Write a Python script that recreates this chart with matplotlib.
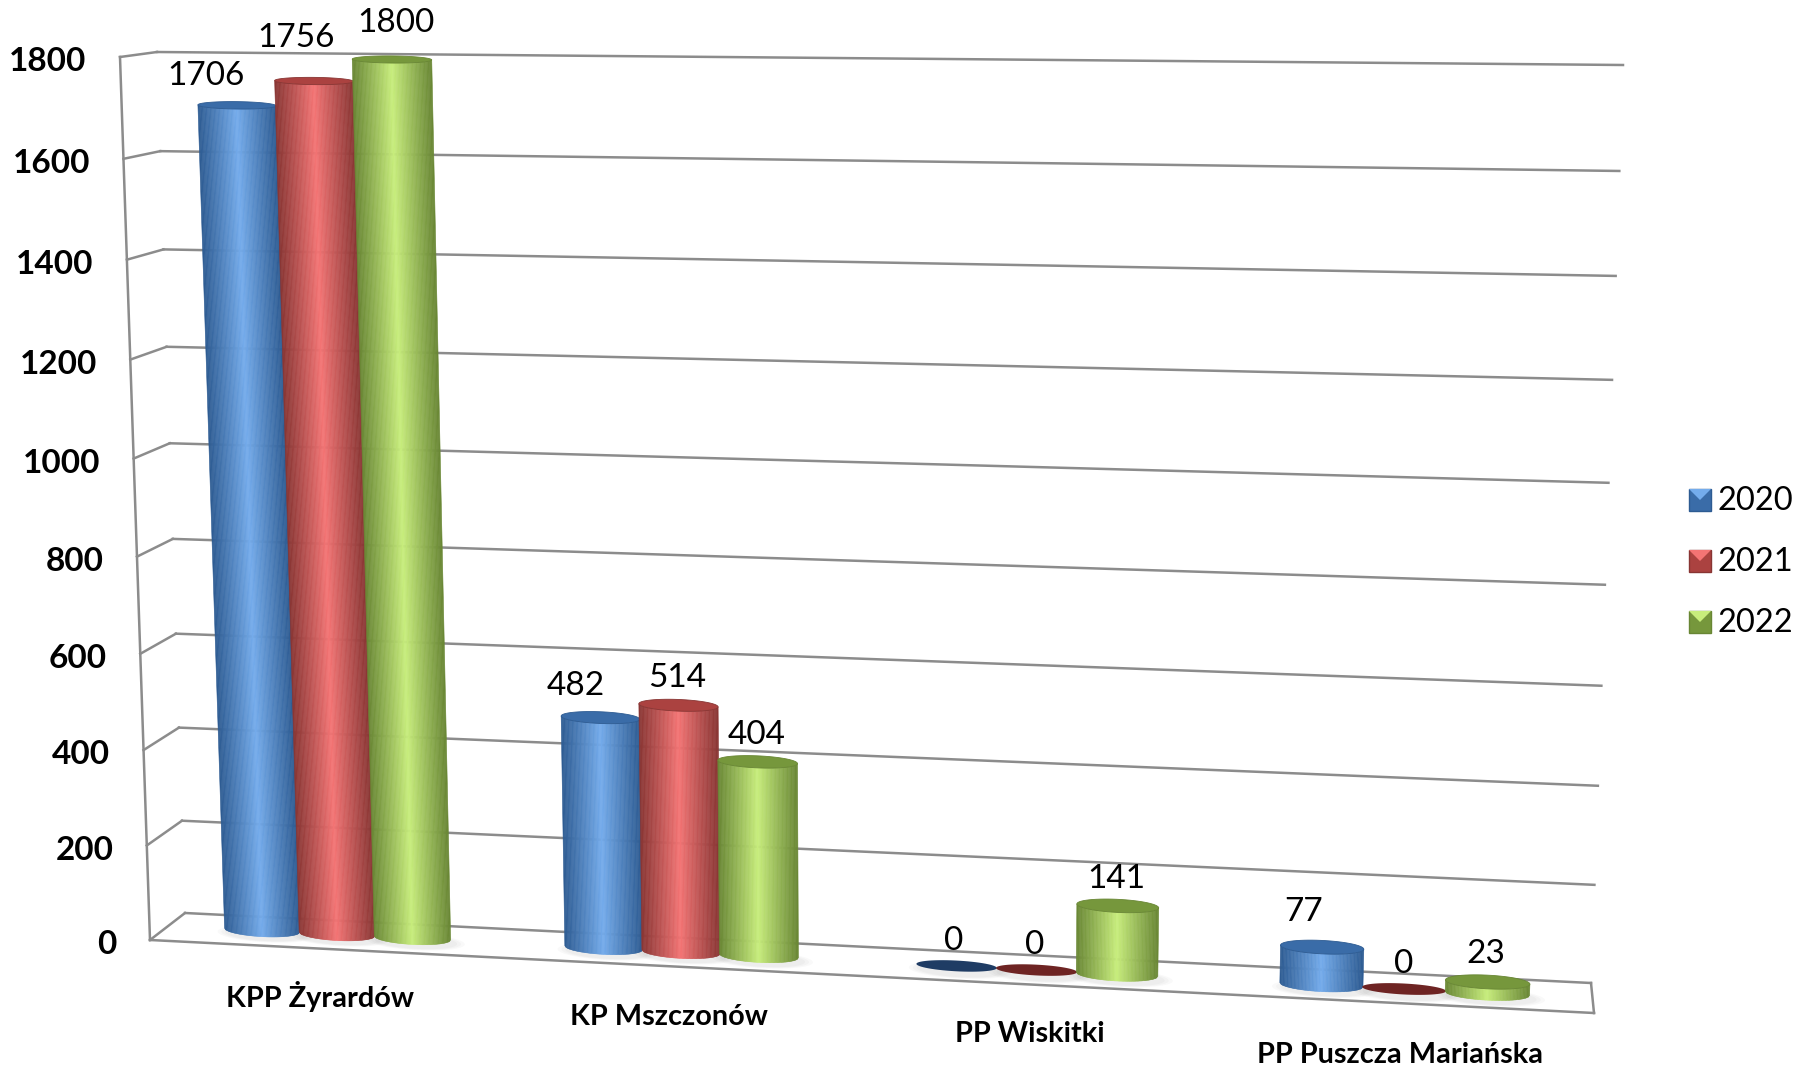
import numpy as np
import matplotlib
matplotlib.use("Agg")
import matplotlib.pyplot as plt
from matplotlib.collections import PolyCollection
from matplotlib.patches import Polygon, Rectangle
from matplotlib.transforms import Transform

plt.rcParams['font.family'] = ['Lato', 'DejaVu Sans']

categories = ["KPP Żyrardów", "KP Mszczonów", "PP Wiskitki", "PP Puszcza Mariańska"]
years = ["2020", "2021", "2022"]
values_2020 = [1706, 482, 0, 77]
values_2021 = [1756, 514, 0, 0]
values_2022 = [1800, 404, 141, 23]
ticks = [0, 200, 400, 600, 800, 1000, 1200, 1400, 1600, 1800]

# edge, highlight, cap, flat disc
blue = ("#2d5b92", "#74acec", "#3a6ca8", "#1f3c64")
red = ("#883533", "#f47474", "#ab4240", "#6e2423")
green = ("#688634", "#c8ee7c", "#76973c", "#7fa53f")
palette = [blue, red, green]
label_nudge = [[(-22, 21), (-13, 31), (3, 26)],
               [(-18, 23), (-1, 20), (-1, 19)],
               [(-2, 18), (-1, 18), (-1, 19)],
               [(-13, 25), (0, 18), (-1, 20)]]
name_nudge = [(-12, -44.8), (-9, -47), (-5, -46), (-3, -47.5)]


class Persp(Transform):
    # plane homography from (x, value) to reference pixels
    input_dims = output_dims = 2
    is_separable = False
    has_inverse = False

    def __init__(self, src, dst):
        super().__init__()
        A, b = [], []
        for (x, y), (u, v) in zip(src, dst):
            A.append([x, y, 1, 0, 0, 0, -u * x, -u * y])
            A.append([0, 0, 0, x, y, 1, -v * x, -v * y])
            b += [u, v]
        self.H = np.append(np.linalg.solve(np.array(A, float), np.array(b, float)), 1).reshape(3, 3)

    def transform_non_affine(self, xy):
        xy = np.asarray(xy, float)
        p = np.c_[xy, np.ones(len(xy))] @ self.H.T
        return p[:, :2] / p[:, 2:]


corners = [(0, 0), (1, 0), (0, 1800), (1, 1800)]
back = Persp(corners, [(185, 913), (1591, 983), (157, 52), (1623, 65)])
front = Persp(corners, [(150, 940), (1594, 1013), (120, 57), (1628, 69)])
bars = Persp([(0, 0), (3, 0), (0, 1756), (3, 1756)],
             [(337, 934), (1404, 989), (314, 81), (1426, 93)])

fig = plt.figure(figsize=(17.99, 10.68), dpi=100)
ax = fig.add_axes([0, 0, 1, 1])
ax.set_xlim(0, 1799)
ax.set_ylim(1068, 0)
ax.axis("off")


def line(a, b):
    ax.plot([a[0], b[0]], [a[1], b[1]], color="#8c8c8c", lw=1.8, zorder=1, solid_capstyle="projecting")


def pt(tr, x, v):
    return tr.transform_non_affine(np.array([[x, v]]))[0]


# walls and floor
for v in ticks:
    line(pt(back, 0, v), pt(back, 1, v))
    line(pt(front, 0, v), pt(back, 0, v))
    ax.annotate(str(v), pt(front, 0, v), xytext=(-24, -3.5), textcoords="offset points",
                ha="right", va="center", fontsize=24, fontweight="bold", color="black")
line(pt(front, 0, 0), pt(front, 0, 1800))
line(pt(front, 0, 0), pt(front, 1, 0))
line(pt(front, 1, 0), pt(back, 1, 0))

for i, name in enumerate(categories):
    ax.annotate(name, pt(bars, i, 0), xytext=name_nudge[i], textcoords="offset points",
                ha="center", va="center", fontsize=20.8, fontweight="bold", color="black")

# cylinders
tr = bars + ax.transData
hw = 0.112
step = 0.222
t = np.linspace(-1, 1, 61)
tone = np.abs((t[:-1] + t[1:]) / 2) ** 0.95


def squash(v):
    return 14 - 7 * v / 1800


series = [values_2020, values_2021, values_2022]
for i in range(len(categories)):
    for s, vals in enumerate(series):
        v = vals[i]
        x0 = i + (s - 1) * step
        edge, light, cap, disc = palette[s]
        # soft floor shadow
        a = np.linspace(0, 2 * np.pi, 60)
        for k in (1.28, 1.18, 1.08):
            sh = np.c_[x0 + 0.01 + hw * k * np.cos(a), -8 + 14 * k * np.sin(a)]
            ax.add_patch(Polygon(sh, fc="black", ec="none", alpha=0.025, transform=tr, zorder=2))
        if v == 0:
            ell = np.c_[x0 + hw * np.cos(a), squash(0) * 0.8 * np.sin(a)]
            ax.add_patch(Polygon(ell, fc=disc, ec="none", transform=tr, zorder=3))
            continue
        c0 = np.array(matplotlib.colors.to_rgb(light))
        c1 = np.array(matplotlib.colors.to_rgb(edge))
        curve = np.sqrt(np.clip(1 - t ** 2, 0, 1))
        low = -squash(0) * curve
        high = v - squash(v) * curve
        strips = [[(x0 + hw * t[j], low[j]), (x0 + hw * t[j + 1], low[j + 1]),
                   (x0 + hw * t[j + 1], high[j + 1]), (x0 + hw * t[j], high[j])]
                  for j in range(len(t) - 1)]
        cols = [c0 * (1 - q) + c1 * q for q in tone]
        ax.add_collection(PolyCollection(strips, facecolors=cols, edgecolors=cols, linewidths=0.4,
                                         transform=tr, zorder=3))
        ell = np.c_[x0 + hw * np.cos(a), v + squash(v) * np.sin(a)]
        ax.add_patch(Polygon(ell, fc=cap, ec=edge, lw=0.6, transform=tr, zorder=3))

# data labels
for i in range(len(categories)):
    for s, vals in enumerate(series):
        x0 = i + (s - 1) * step
        ax.annotate(str(vals[i]), pt(bars, x0, vals[i]), xytext=label_nudge[i][s],
                    textcoords="offset points", ha="center", va="center", fontsize=24, color="black",
                    annotation_clip=False)

# legend
for s, year in enumerate(years):
    edge, light, cap, disc = palette[s]
    y0 = 489 + 61 * s
    ax.add_patch(Rectangle((1689, y0), 22, 22, fc=cap, ec=edge, lw=1, zorder=4))
    ax.add_patch(Polygon([(1689, y0), (1711, y0), (1700, y0 + 11)], fc=light, ec="none", zorder=5))
    ax.text(1718, y0 + 12, year, fontsize=23.5, ha="left", va="center", color="black")

fig.savefig("out.png", dpi=100)
